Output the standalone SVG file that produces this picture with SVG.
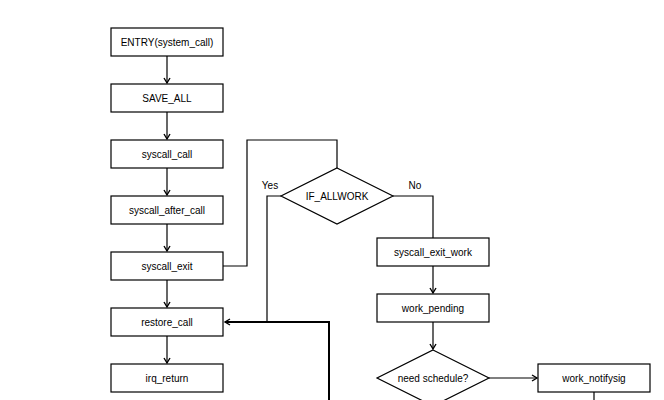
<svg xmlns="http://www.w3.org/2000/svg" width="664" height="400" viewBox="0 0 664 400">
<defs>
<style>
.box{fill:#fff;stroke:#000;stroke-width:1.2}
.t{font-family:"Liberation Sans",Arial,sans-serif;font-size:10px;fill:#000;text-anchor:middle;dominant-baseline:central}
.lbl{font-family:"Liberation Sans",Arial,sans-serif;font-size:10px;fill:#000;text-anchor:middle}
.c{fill:none;stroke:#000;stroke-width:1.2}
.cb{fill:none;stroke:#000;stroke-width:2}
</style>
<marker id="arr" markerWidth="8" markerHeight="8" refX="6" refY="4" orient="auto" markerUnits="userSpaceOnUse">
<path d="M1,1 L6,4 L1,7" fill="none" stroke="#000" stroke-width="1.4"/>
</marker>
</defs>
<rect width="664" height="400" fill="#fff"/>
<g id="connectors">
<line class="c" x1="167" y1="56" x2="167" y2="83" marker-end="url(#arr)"/>
<line class="c" x1="167" y1="112" x2="167" y2="139" marker-end="url(#arr)"/>
<line class="c" x1="167" y1="168" x2="167" y2="195" marker-end="url(#arr)"/>
<line class="c" x1="167" y1="224" x2="167" y2="251" marker-end="url(#arr)"/>
<line class="c" x1="167" y1="280" x2="167" y2="307" marker-end="url(#arr)"/>
<line class="c" x1="167" y1="336" x2="167" y2="363" marker-end="url(#arr)"/>
<polyline class="c" points="223,266 247,266 247,140 337,140 337,168"/>
<polyline class="c" points="281,196 267,196 267,322"/>
<polyline class="c" points="393,196 433,196 433,238"/>
<line class="c" x1="433" y1="266" x2="433" y2="293" marker-end="url(#arr)"/>
<line class="c" x1="433" y1="322" x2="433" y2="349" marker-end="url(#arr)"/>
<line class="c" x1="489" y1="378" x2="537" y2="378" marker-end="url(#arr)"/>
<line class="c" x1="594" y1="392" x2="594" y2="400"/>
<polyline class="cb" points="329,400 329,322 225,322" marker-end="url(#arr)"/>
<text class="lbl" x="270" y="189">Yes</text>
<text class="lbl" x="415" y="189">No</text>
</g>
<g id="entry"><rect class="box" x="111" y="28" width="112" height="28"/><text class="t" x="167" y="42">ENTRY(system_call)</text></g>
<g id="save_all"><rect class="box" x="111" y="84" width="112" height="28"/><text class="t" x="167" y="98">SAVE_ALL</text></g>
<g id="syscall_call"><rect class="box" x="111" y="140" width="112" height="28"/><text class="t" x="167" y="154">syscall_call</text></g>
<g id="syscall_after_call"><rect class="box" x="111" y="196" width="112" height="28"/><text class="t" x="167" y="210">syscall_after_call</text></g>
<g id="syscall_exit"><rect class="box" x="111" y="252" width="112" height="28"/><text class="t" x="167" y="266">syscall_exit</text></g>
<g id="restore_call"><rect class="box" x="111" y="308" width="112" height="28"/><text class="t" x="167" y="322">restore_call</text></g>
<g id="irq_return"><rect class="box" x="111" y="364" width="112" height="28"/><text class="t" x="167" y="378">irq_return</text></g>
<g id="if_allwork"><polygon class="box" points="337,168 393,196 337,224 281,196"/><text class="t" x="337" y="196">IF_ALLWORK</text></g>
<g id="syscall_exit_work"><rect class="box" x="377" y="238" width="112" height="28"/><text class="t" x="433" y="252">syscall_exit_work</text></g>
<g id="work_pending"><rect class="box" x="377" y="294" width="112" height="28"/><text class="t" x="433" y="308">work_pending</text></g>
<g id="need_schedule"><polygon class="box" points="433,350 489,378 433,406 377,378"/><text class="t" x="433" y="378">need schedule?</text></g>
<g id="work_notifysig"><rect class="box" x="538" y="364" width="112" height="28"/><text class="t" x="594" y="378">work_notifysig</text></g>
</svg>
